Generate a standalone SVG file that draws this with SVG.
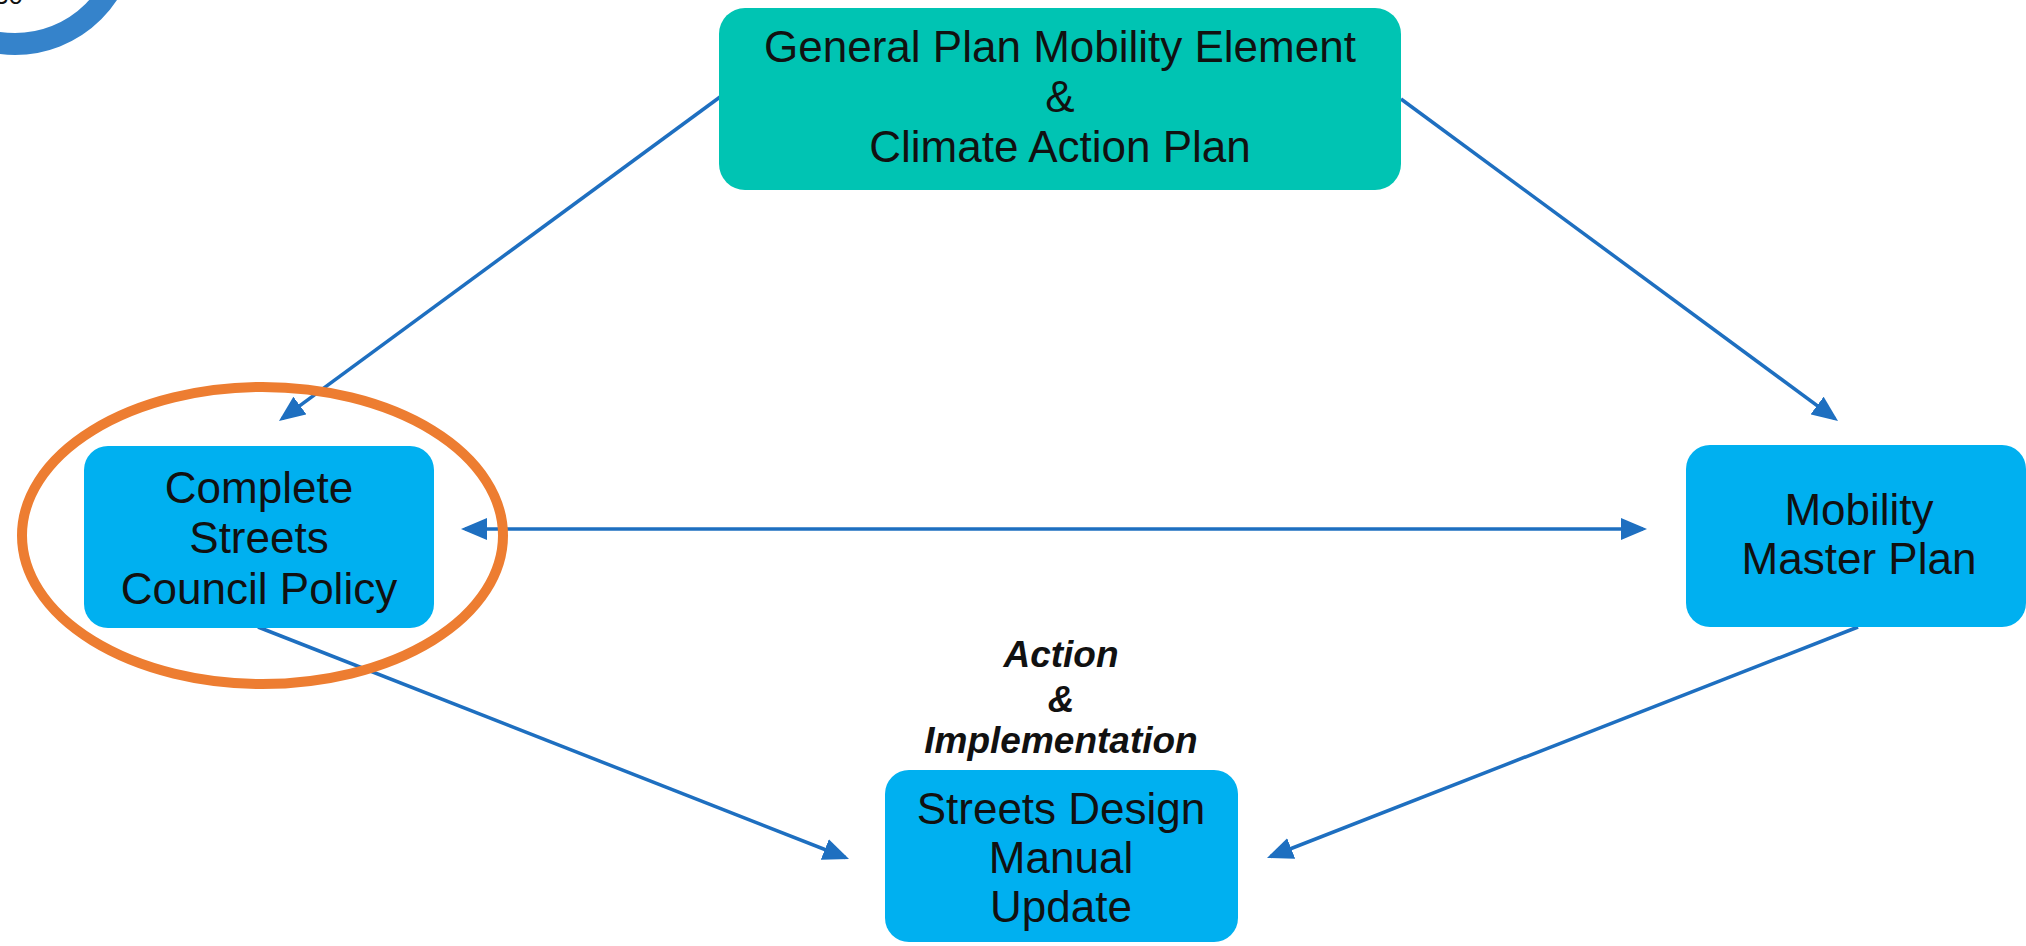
<svg xmlns="http://www.w3.org/2000/svg" width="2026" height="946" viewBox="0 0 2026 946">
<style>
.node-text{font-family:"Liberation Sans",Arial,sans-serif;font-size:44px;fill:#111;text-anchor:middle}
.label{font-family:"Liberation Sans",Arial,sans-serif;font-size:37px;font-weight:bold;font-style:italic;fill:#111;text-anchor:middle}
.conn{stroke:#1E6FC0;stroke-width:3.5;fill:none}
.teal{fill:#00C4B3}
.blue{fill:#00B0F0}
</style>
<defs>
<marker id="arrow" markerUnits="userSpaceOnUse" viewBox="0 0 26 22" markerWidth="26" markerHeight="22" refX="22" refY="11" orient="auto-start-reverse">
<path d="M0,0 L26,11 L0,22 z" fill="#1E6FC0"/>
</marker>
</defs>
<rect width="2026" height="946" fill="#fff"/>
<g id="badge">
<circle cx="15" cy="-67" r="111" fill="none" stroke="#3583CB" stroke-width="22"/>
<text x="-6" y="4" style="font-family:'Liberation Sans',Arial,sans-serif;font-size:26px;fill:#111">30</text>
</g>
<g id="connectors">
<line class="conn" x1="720" y1="97" x2="282.2" y2="418.6" marker-end="url(#arrow)"/>
<line class="conn" x1="1401" y1="99" x2="1834.8" y2="418.6" marker-end="url(#arrow)"/>
<line class="conn" x1="465" y1="529" x2="1643" y2="529" marker-start="url(#arrow)" marker-end="url(#arrow)"/>
<line class="conn" x1="258" y1="627" x2="845.3" y2="857.5" marker-end="url(#arrow)"/>
<line class="conn" x1="1858" y1="627" x2="1270.7" y2="856.5" marker-end="url(#arrow)"/>
</g>
<g id="node-general-plan">
<rect class="teal" x="719" y="8" width="682" height="182" rx="26"/>
<text class="node-text" x="1060" y="62">General Plan Mobility Element</text>
<text class="node-text" x="1060" y="112">&amp;</text>
<text class="node-text" x="1060" y="162">Climate Action Plan</text>
</g>
<g id="node-complete-streets">
<rect class="blue" x="84" y="446" width="350" height="182" rx="24"/>
<text class="node-text" x="259" y="503">Complete</text>
<text class="node-text" x="259" y="553">Streets</text>
<text class="node-text" x="259" y="604">Council Policy</text>
</g>
<g id="node-mobility-master-plan">
<rect class="blue" x="1686" y="445" width="340" height="182" rx="24"/>
<text class="node-text" x="1859" y="525">Mobility</text>
<text class="node-text" x="1859" y="574">Master Plan</text>
</g>
<g id="label-action">
<text class="label" x="1061" y="667">Action</text>
<text class="label" x="1061" y="712">&amp;</text>
<text class="label" x="1061" y="753">Implementation</text>
</g>
<g id="node-streets-design">
<rect class="blue" x="885" y="770" width="353" height="172" rx="24"/>
<text class="node-text" x="1061" y="824">Streets Design</text>
<text class="node-text" x="1061" y="873">Manual</text>
<text class="node-text" x="1061" y="922">Update</text>
</g>
<g id="highlight">
<ellipse cx="262.5" cy="535.5" rx="240.5" ry="148.5" fill="none" stroke="#ED7D31" stroke-width="10"/>
</g>
</svg>
